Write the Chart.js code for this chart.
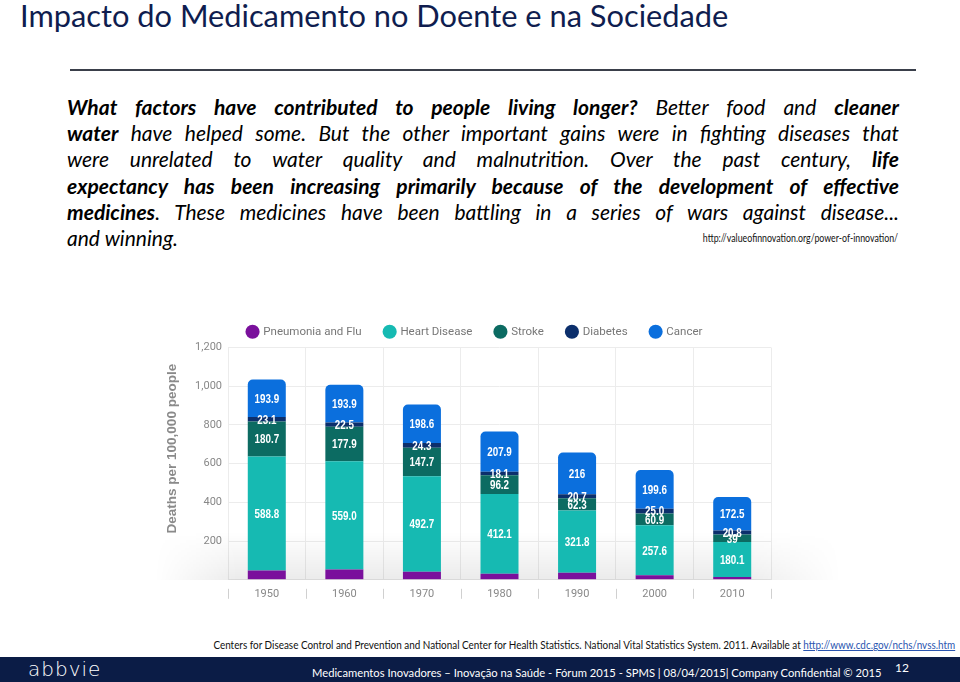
<!DOCTYPE html>
<html>
<head>
<meta charset="utf-8">
<script src="https://cdn.jsdelivr.net/npm/chart.js@4.4.1/dist/chart.umd.min.js"></script>
<style>
  html, body { margin: 0; padding: 0; background: #fff; }
  body { width: 960px; height: 682px; position: relative; overflow: hidden; font-family: Lato, "Open Sans", sans-serif; }
  #title { position: absolute; left: 20px; top: -3px; font-size: 30.8px; color: #0f1d4f; white-space: nowrap; }
  #rule { position: absolute; left: 70px; top: 69px; width: 846px; height: 2px; background: #3a3f4a; }
  #para { position: absolute; left: 67px; top: 94px; width: 832px; font-size: 21px; line-height: 26.2px; font-style: italic; color: #000; }
  #para .ln { text-align: justify; text-align-last: justify; white-space: nowrap; }
  #para b { font-weight: 700; }
  #src1 { position: absolute; right: 62px; top: 231px; font-size: 11px; color: #111; transform: scaleX(0.8); transform-origin: right center; white-space: nowrap; }
  #chartBox { position: absolute; left: 155px; top: 303px; width: 690px; height: 306px; }
  #cite { position: absolute; right: 5px; top: 638px; font-size: 11px; color: #111; white-space: nowrap; transform: scaleX(0.90); transform-origin: right center; }
  #cite a { color: #2a55b0; text-decoration: underline; }
  #bar { position: absolute; left: 0; top: 657px; width: 960px; height: 25px; background: #0b1c46; color: #fff; }
  #logo { position: absolute; left: 28px; top: 0px; font-size: 20px; font-family: "DejaVu Sans", sans-serif; font-weight: 300; letter-spacing: 1px; }
  #foot { position: absolute; left: 312px; top: 8px; font-size: 12px; white-space: nowrap; transform: scaleX(0.934); transform-origin: left center; }
  #page { position: absolute; left: 895px; top: 3px; font-size: 12px; }
</style>
</head>
<body>
<div id="title">Impacto do Medicamento no Doente e na Sociedade</div>
<div id="rule"></div>
<div id="para">
  <div class="ln"><b>What factors have contributed to people living longer?</b> Better food and <b>cleaner</b></div>
  <div class="ln"><b>water</b> have helped some. But the other important gains were in fighting diseases that</div>
  <div class="ln">were unrelated to water quality and malnutrition. Over the past century, <b>life</b></div>
  <div class="ln"><b>expectancy has been increasing primarily because of the development of effective</b></div>
  <div class="ln"><b>medicines</b>. These medicines have been battling in a series of wars against disease...</div>
  <div>and winning.</div>
</div>
<div id="src1">http://valueofinnovation.org/power-of-innovation/</div>
<div id="chartBox"><canvas id="deathChart"></canvas></div>
<div id="cite">Centers for Disease Control and Prevention and National Center for Health Statistics. National Vital Statistics System. 2011. Available at <a>http://www.cdc.gov/nchs/nvss.htm</a></div>
<div id="bar">
  <div id="logo">abbvie</div>
  <div id="foot">Medicamentos Inovadores – Inovação na Saúde -  Fórum 2015 - SPMS |  08/04/2015| Company Confidential © 2015</div>
  <div id="page">12</div>
</div>

<script>
// Data (deaths per 100,000 people)
const years = ['1950', '1960', '1970', '1980', '1990', '2000', '2010'];
const pneumonia = [48.1, 53.7, 41.7, 31.4, 36.8, 23.7, 15.1];
const heart = [588.8, 559.0, 492.7, 412.1, 321.8, 257.6, 180.1];
const stroke = [180.7, 177.9, 147.7, 96.2, 62.3, 60.9, 39];
const diabetes = [23.1, 22.5, 24.3, 18.1, 20.7, 25.0, 20.8];
const cancer = [193.9, 193.9, 198.6, 207.9, 216, 199.6, 172.5];

// value labels exactly as printed on the bars
const heartText = ['588.8', '559.0', '492.7', '412.1', '321.8', '257.6', '180.1'];
const strokeText = ['180.7', '177.9', '147.7', '96.2', '62.3', '60.9', '39'];
const diabetesText = ['23.1', '22.5', '24.3', '18.1', '20.7', '25.0', '20.8'];
const cancerText = ['193.9', '193.9', '198.6', '207.9', '216', '199.6', '172.5'];

const yTicks = [0, 200, 400, 600, 800, 1000, 1200];

// draws the numbers inside each stacked segment
const segmentLabels = {
    id: 'segmentLabels',
    afterDatasetsDraw(chart) {
        const ctx = chart.ctx;
        const texts = [null, heartText, strokeText, diabetesText, cancerText];
        ctx.save();
        ctx.fillStyle = '#ffffff';
        ctx.font = 'bold 12px "Liberation Sans", sans-serif';
        ctx.textAlign = 'center';
        ctx.textBaseline = 'middle';
        texts.forEach(function(arr, di) {
            if (!arr) return;
            chart.getDatasetMeta(di).data.forEach(function(bar, i) {
                const mid = (bar.y + bar.base) / 2;
                ctx.save();
                ctx.translate(bar.x, mid + 1);
                ctx.scale(0.82, 1);
                ctx.fillText(arr[i], 0, 0);
                ctx.restore();
            });
        });
        ctx.restore();
    }
};

// separator marks between the year labels
const yearSeparators = {
    id: 'yearSeparators',
    afterDraw(chart) {
        const x = chart.scales.x;
        const a = chart.chartArea;
        const ctx = chart.ctx;
        const step = (x.right - x.left) / years.length;
        ctx.save();
        ctx.strokeStyle = '#d0d0d0';
        ctx.lineWidth = 1;
        for (let i = 0; i <= years.length; i++) {
            const px = Math.round(x.left + i * step) + 0.5;
            ctx.beginPath();
            ctx.moveTo(px, a.bottom + 9);
            ctx.lineTo(px, a.bottom + 19);
            ctx.stroke();
        }
        ctx.restore();
    }
};

// soft grey fade at the bottom of the plot, like the original graphic
const floorShade = {
    id: 'floorShade',
    beforeDatasetsDraw(chart) {
        const a = chart.chartArea;
        const w = chart.width;
        const h = 48;
        const off = document.createElement('canvas');
        off.width = w;
        off.height = h;
        const o = off.getContext('2d');
        const gv = o.createLinearGradient(0, 0, 0, h);
        gv.addColorStop(0, 'rgba(0,0,0,0)');
        gv.addColorStop(1, 'rgba(0,0,0,0.08)');
        o.fillStyle = gv;
        o.fillRect(0, 0, w, h);
        o.globalCompositeOperation = 'destination-in';
        const gh = o.createLinearGradient(0, 0, a.right + 70, 0);
        gh.addColorStop(0, 'rgba(0,0,0,0)');
        gh.addColorStop(0.12, 'rgba(0,0,0,1)');
        gh.addColorStop(0.85, 'rgba(0,0,0,1)');
        gh.addColorStop(1, 'rgba(0,0,0,0)');
        o.fillStyle = gh;
        o.fillRect(0, 0, w, h);
        chart.ctx.drawImage(off, 0, a.bottom - h);
    }
};

const ctx = document.getElementById('deathChart').getContext('2d');

new Chart(ctx, {
    type: 'bar',
    data: {
        labels: years,
        datasets: [
            { label: 'Pneumonia and Flu', data: pneumonia, backgroundColor: '#7a109c' },
            { label: 'Heart Disease', data: heart, backgroundColor: '#16bab2' },
            { label: 'Stroke', data: stroke, backgroundColor: '#0c6b62' },
            { label: 'Diabetes', data: diabetes, backgroundColor: '#0c2f6c' },
            { label: 'Cancer', data: cancer, backgroundColor: '#0b6fdd',
              borderRadius: { topLeft: 5, topRight: 5, bottomLeft: 0, bottomRight: 0 }, borderSkipped: false }
        ]
    },
    options: {
        responsive: true,
        maintainAspectRatio: false,
        animation: false,
        datasets: { bar: { barPercentage: 0.98, categoryPercentage: 0.5 } },
        layout: { padding: { left: 0, right: 50, top: 0, bottom: 0 } },
        plugins: {
            tooltip: { enabled: false },
            legend: {
                position: 'top',
                labels: {
                    usePointStyle: true,
                    pointStyle: 'circle',
                    boxWidth: 10,
                    boxHeight: 10,
                    padding: 23,
                    color: '#777',
                    font: { family: 'Roboto, "Liberation Sans", sans-serif', size: 11.5 }
                }
            }
        },
        scales: {
            x: {
                stacked: true,
                grid: { display: true, offset: true, drawOnChartArea: true, drawTicks: false, color: '#ececec' },
                border: { display: false },
                ticks: { color: '#888', padding: 8, font: { family: 'Roboto, "Liberation Sans", sans-serif', size: 11 } }
            },
            y: {
                stacked: true,
                min: 0,
                max: 1200,
                afterBuildTicks: function(scale) {
                    scale.ticks = yTicks.map(function(v) { return { value: v }; });
                },
                afterFit: function(scale) { scale.width = 73; },
                ticks: {
                    color: '#888',
                    padding: 6,
                    font: { family: 'Roboto, "Liberation Sans", sans-serif', size: 11 },
                    callback: function(v) { return v === 0 ? '' : v.toLocaleString('en-US'); }
                },
                grid: { color: '#ececec', drawTicks: false },
                border: { display: false },
                title: {
                    display: true,
                    text: '        Deaths per 100,000 people',
                    color: '#8a8a8a',
                    padding: { top: 9, bottom: 6 },
                    font: { family: '"Liberation Sans", sans-serif', size: 13.5, weight: 'bold' }
                }
            },
            // blank right-hand axis: keeps the plot clear of the fade on the right
            yRight: {
                type: 'linear',
                position: 'right',
                afterFit: function(scale) { scale.width = 24; },
                grid: { display: false },
                border: { display: false },
                ticks: { display: false }
            }
        }
    },
    plugins: [floorShade, segmentLabels, yearSeparators]
});
</script>
</body>
</html>
